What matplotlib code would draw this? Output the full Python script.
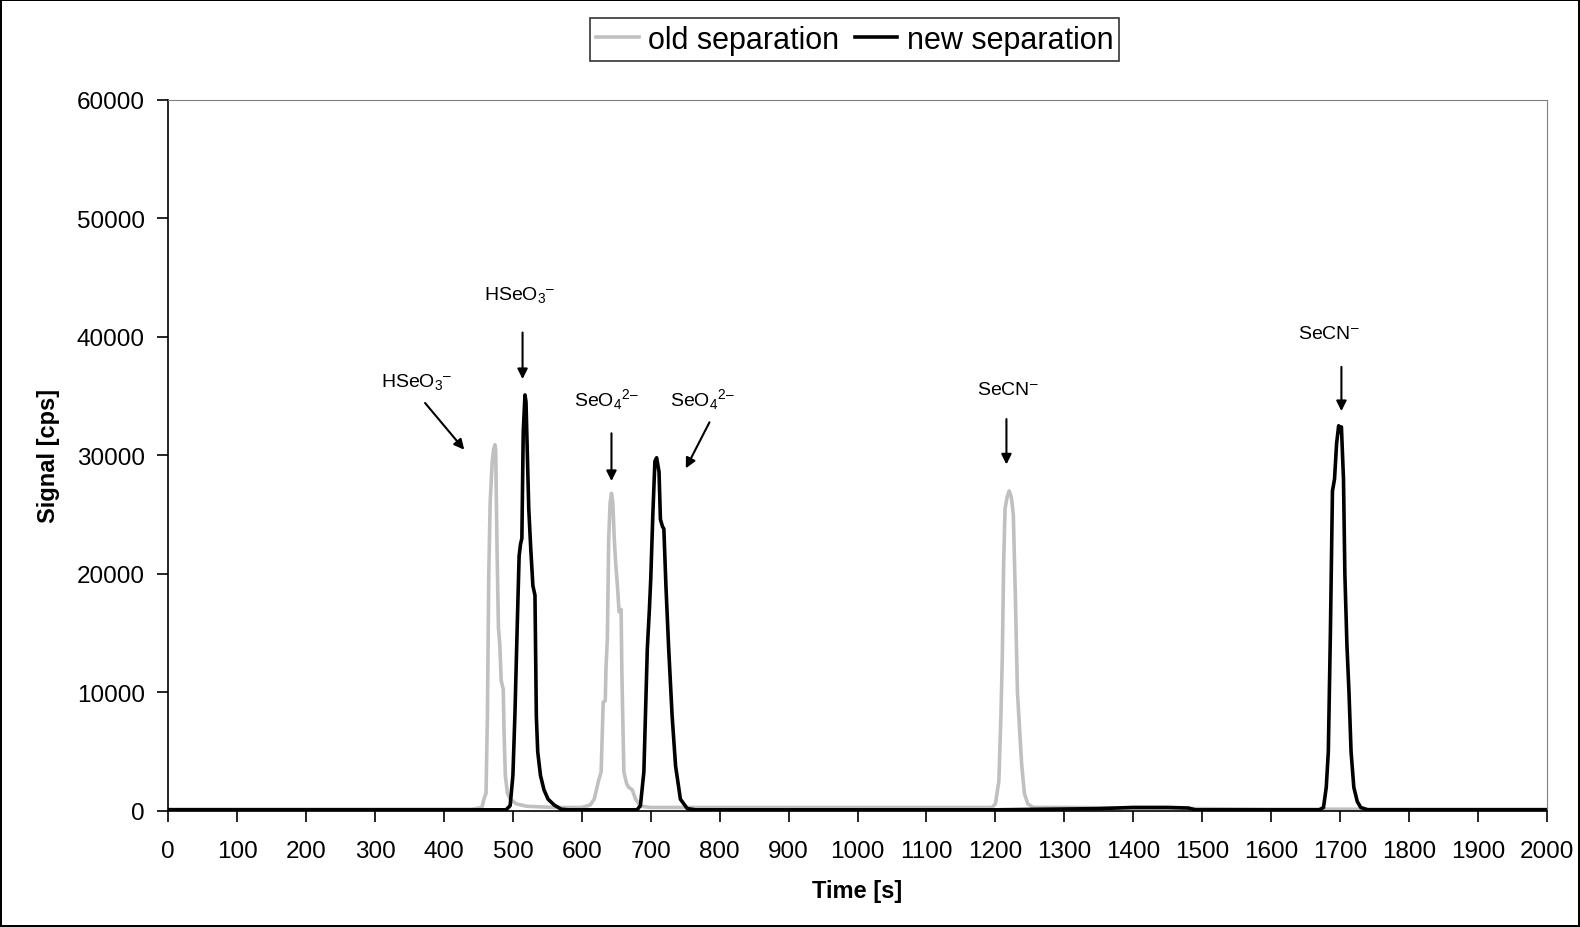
import matplotlib
matplotlib.use('Agg')
import matplotlib.pyplot as plt

# chromatogram data
old_time = [0, 50, 100, 200, 300, 400, 440, 455, 458, 461, 463, 465, 467, 470, 472, 474, 475, 477, 479,
            481, 483, 485, 486, 487, 489, 492, 496, 505, 520, 560, 600, 612, 618, 624, 628, 631, 634, 635,
            637, 639, 641, 643, 645, 647, 649, 652, 654, 657, 658, 659, 661, 665, 668, 673, 678, 685, 700,
            800, 900, 1000, 1100, 1150, 1190, 1195, 1200, 1205, 1208, 1210, 1212, 1214, 1217, 1220, 1223,
            1226, 1229, 1232, 1235, 1238, 1242, 1247, 1255, 1300, 1400, 1500, 1600, 1700, 1800, 1900, 2000]
old_signal = [150, 150, 150, 150, 150, 150, 150, 300, 1000, 1500, 8000, 20000, 26000, 29500, 30500, 30900,
              30500, 22000, 15500, 14000, 11000, 10500, 10300, 7000, 3000, 1500, 1000, 600, 400, 300, 300,
              500, 1000, 2500, 3300, 9200, 9300, 12000, 14500, 23000, 26000, 26800, 26000, 23000, 21000,
              18700, 16800, 17000, 12000, 8900, 3300, 2300, 2000, 1800, 1000, 400, 300, 300, 300, 300, 300,
              300, 300, 300, 600, 2500, 8000, 13000, 21000, 25500, 26500, 27000, 26500, 25000, 18000, 10000,
              7000, 4000, 1500, 600, 300, 300, 250, 200, 150, 150, 150, 150, 150]

new_time = [0, 100, 200, 300, 400, 480, 490, 496, 500, 503, 506, 509, 511, 513, 515, 517.5, 519, 521, 523,
            526, 529, 532, 534, 536, 540, 545, 551, 560, 570, 580, 680, 685, 690, 695, 698, 700, 703, 706,
            708.5, 710, 712, 714, 717, 719, 722, 726, 731, 736, 743, 753, 765, 800, 1000, 1200, 1350, 1400,
            1450, 1480, 1490, 1600, 1670, 1676, 1680, 1683, 1686, 1689, 1692, 1695, 1698, 1700, 1702, 1705,
            1707, 1710, 1713, 1716, 1720, 1725, 1730, 1740, 1800, 1900, 2000]
new_signal = [100, 100, 100, 100, 100, 100, 100, 450, 3000, 8300, 15000, 21500, 22500, 23000, 32000, 35100,
              34500, 30000, 25500, 22000, 19000, 18200, 8000, 5000, 3000, 1800, 1000, 500, 150, 100, 100,
              450, 3300, 13700, 17000, 19600, 25000, 29500, 29800, 29300, 28600, 24600, 24000, 23800, 19000,
              13700, 8000, 3800, 1000, 200, 100, 100, 100, 100, 200, 300, 300, 250, 100, 100, 100, 300, 2000,
              5000, 15000, 27000, 28000, 31000, 32500, 32000, 32400, 28000, 20000, 14000, 10000, 5000, 2000,
              800, 300, 100, 100, 100, 100]

# annotations: label, text centre, arrow start, arrow end
ann_labels = ['HSeO$_3$$^{\u2013}$', 'HSeO$_3$$^{\u2013}$', 'SeO$_4$$^{2\u2013}$', 'SeO$_4$$^{2\u2013}$',
              'SeCN$^{\u2013}$', 'SeCN$^{\u2013}$']
ann_text_x = [360, 509, 636, 775, 1218, 1684]
ann_text_y = [36300, 43600, 34800, 34800, 35600, 40300]
ann_start_x = [370, 514, 643, 787, 1216, 1702]
ann_start_y = [34600, 40600, 32100, 33000, 33300, 37700]
ann_end_x = [432, 514, 643, 749, 1216, 1702]
ann_end_y = [30300, 36200, 27600, 28700, 29000, 33500]

plt.rcParams['font.family'] = ['Liberation Sans', 'DejaVu Sans']
plt.rcParams['mathtext.fontset'] = 'custom'
plt.rcParams['mathtext.rm'] = 'Liberation Sans'
plt.rcParams['mathtext.it'] = 'Liberation Sans:italic'

fig = plt.figure(figsize=(15.8, 9.28), dpi=100)
fig.patch.set_edgecolor('black')
fig.patch.set_linewidth(1.5)
ax = fig.add_axes([0.1065, 0.125, 0.8725, 0.7664])

l1, = ax.plot(old_time, old_signal, color='#c0c0c0', lw=2.6, label='old separation')
l2, = ax.plot(new_time, new_signal, color='black', lw=2.6, label='new separation')

for i in range(len(ann_labels)):
    ax.text(ann_text_x[i], ann_text_y[i], ann_labels[i], fontsize=14, ha='center', va='center')
    ax.annotate('', xy=(ann_end_x[i], ann_end_y[i]), xytext=(ann_start_x[i], ann_start_y[i]),
                arrowprops=dict(arrowstyle='-|>', color='black', lw=1.5, mutation_scale=15))

ax.set_xlim(0, 2000)
ax.set_ylim(0, 60000)
ax.set_xticks(range(0, 2001, 100))
ax.set_yticks(range(0, 60001, 10000))
ax.tick_params(axis='both', labelsize=17.5, direction='out', length=8, width=1.2)
ax.tick_params(axis='x', pad=13)
ax.tick_params(axis='y', pad=9)

ax.spines['top'].set_color('#808080')
ax.spines['right'].set_color('#808080')
ax.spines['left'].set_linewidth(1.2)
ax.spines['bottom'].set_linewidth(1.2)

ax.set_xlabel('Time [s]', fontsize=17, fontweight='bold', labelpad=12)
ax.set_ylabel('Signal [cps]', fontsize=17, fontweight='bold', labelpad=12)

leg = fig.legend(handles=[l1, l2], loc='upper center', bbox_to_anchor=(0.541, 0.979), ncol=2,
                 fontsize=22, frameon=True, fancybox=False, edgecolor='black', handlelength=1.4,
                 handletextpad=0.3, columnspacing=0.5, borderpad=0.2, borderaxespad=0)
leg.get_frame().set_linewidth(1.2)

plt.savefig('out.png', dpi=100)
plt.close()
